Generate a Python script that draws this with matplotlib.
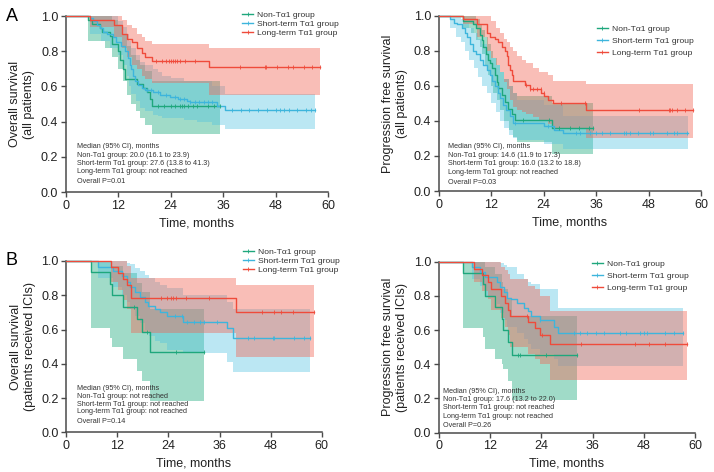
import numpy as np
import matplotlib
matplotlib.use("Agg")
import matplotlib.pyplot as plt
from matplotlib.lines import Line2D

plt.rcParams['font.family'] = ['Liberation Sans', 'DejaVu Sans']

GROUPS = ["Non-Tα1 group", "Short-term Tα1 group", "Long-term Tα1 group"]

# ---------------- Panel A, overall survival ----------------
AOS_non_t = [5.1, 5.9, 7.8, 8.3, 10.1, 10.5, 12.0, 12.4, 13.1, 13.6, 16.3, 17.7, 18.5, 19.2, 19.7]
AOS_non_s = [0.977, 0.955, 0.932, 0.909, 0.886, 0.841, 0.80, 0.75, 0.70, 0.64, 0.615, 0.59, 0.567, 0.53, 0.488]
AOS_non_end = 35.3
AOS_non_cens = [21, 22.5, 24, 25, 26, 26.5, 27, 28, 29, 30, 32.5, 34, 35.3]
AOS_non_ci_t = [5.1, 9, 10.5, 12, 13, 14, 15, 16, 17, 18, 19.7]
AOS_non_lo = [0.86, 0.82, 0.77, 0.70, 0.63, 0.55, 0.50, 0.46, 0.42, 0.38, 0.33]
AOS_non_hi = [1.0, 1.0, 0.98, 0.95, 0.90, 0.83, 0.78, 0.75, 0.72, 0.69, 0.63]

AOS_short_t = [5.5, 6.3, 7.0, 7.8, 8.5, 9.3, 10.8, 11.5, 12.7, 13.5, 14.3, 14.7, 15.0, 15.4, 15.8, 16.5, 17.3, 18.0, 20.0, 21.5, 23.8, 25.7, 27.6, 28.5, 34.5, 36.5]
AOS_short_s = [0.99, 0.97, 0.95, 0.93, 0.91, 0.90, 0.88, 0.85, 0.83, 0.80, 0.76, 0.72, 0.70, 0.66, 0.63, 0.61, 0.59, 0.58, 0.57, 0.55, 0.54, 0.53, 0.52, 0.51, 0.49, 0.465]
AOS_short_end = 57.0
AOS_short_cens = [18.5, 19.5, 21, 23, 25, 26, 27, 28.5, 29.5, 30.5, 31.5, 32.5, 33.5, 38, 40, 42, 44, 46, 48, 49, 50, 51, 53, 55, 56, 57]
AOS_short_ci_t = [5.5, 8, 10, 12, 13, 14, 14.5, 15, 16, 17, 18, 20, 21, 22, 24, 27, 30, 33.5, 36.5]
AOS_short_lo = [0.90, 0.86, 0.82, 0.78, 0.72, 0.66, 0.60, 0.56, 0.52, 0.48, 0.46, 0.44, 0.43, 0.42, 0.42, 0.41, 0.40, 0.38, 0.36]
AOS_short_hi = [1.0, 1.0, 1.0, 0.97, 0.94, 0.90, 0.86, 0.82, 0.78, 0.74, 0.72, 0.70, 0.68, 0.66, 0.65, 0.63, 0.63, 0.60, 0.56]

AOS_long_t = [5.6, 10.9, 12.8, 14.0, 15.1, 16.3, 17.4, 18.0, 19.7, 32.7]
AOS_long_s = [0.98, 0.95, 0.90, 0.87, 0.85, 0.82, 0.79, 0.77, 0.745, 0.71]
AOS_long_end = 58.1
AOS_long_cens = [20.5, 22.0, 22.8, 23.5, 24.05, 24.5, 25.0, 25.4, 26.2, 27.3, 29.5, 39.8, 45.5, 45.9, 48.3, 50.8, 51.9, 54.4, 56.3, 58.1]
AOS_long_ci_t = [5.6, 10.9, 12.8, 14.0, 15.1, 16.3, 17.4, 18.0, 19.7, 32.7]
AOS_long_lo = [0.94, 0.88, 0.82, 0.77, 0.72, 0.70, 0.66, 0.64, 0.62, 0.55]
AOS_long_hi = [1.0, 1.0, 0.98, 0.95, 0.93, 0.90, 0.88, 0.86, 0.84, 0.82]

# ---------------- Panel A, progression free survival ----------------
APFS_non_t = [5.6, 7.9, 8.6, 9.4, 9.8, 10.2, 10.9, 11.3, 11.7, 12.1, 12.9, 13.3, 13.6, 14.4, 15.2, 15.9, 16.7, 17.4, 25.9]
APFS_non_s = [0.97, 0.95, 0.93, 0.89, 0.86, 0.82, 0.78, 0.75, 0.73, 0.70, 0.66, 0.62, 0.59, 0.55, 0.51, 0.47, 0.44, 0.405, 0.36]
APFS_non_end = 35.3
APFS_non_cens = [19.2, 25.3, 27.6, 30.1, 32.2, 34.3, 35.3]
APFS_non_ci_t = [5.6, 7.5, 8.5, 9.4, 10, 10.5, 11.3, 12, 12.5, 13.3, 14, 15, 16, 17, 18, 25.9]
APFS_non_lo = [0.93, 0.90, 0.86, 0.82, 0.78, 0.72, 0.66, 0.60, 0.56, 0.52, 0.46, 0.40, 0.35, 0.31, 0.28, 0.21]
APFS_non_hi = [1.0, 1.0, 0.98, 0.95, 0.92, 0.88, 0.84, 0.80, 0.76, 0.72, 0.68, 0.64, 0.60, 0.56, 0.54, 0.50]

APFS_short_t = [2.6, 3.4, 4.2, 5.3, 6.0, 6.4, 7.2, 7.9, 8.6, 9.4, 10.2, 11.0, 11.7, 12.1, 12.9, 13.6, 14.0, 14.8, 15.5, 16.3, 17.0, 24.0, 26.3, 28.5]
APFS_short_s = [0.98, 0.96, 0.95, 0.93, 0.90, 0.88, 0.84, 0.80, 0.78, 0.75, 0.72, 0.69, 0.66, 0.63, 0.60, 0.56, 0.53, 0.49, 0.46, 0.43, 0.39, 0.37, 0.35, 0.33]
APFS_short_end = 57.1
APFS_short_cens = [17.5, 25.0, 31.5, 32.4, 34.6, 36.0, 37.3, 39.2, 42.3, 42.9, 43.8, 45.5, 48.4, 49.0, 52.2, 53.9, 54.5, 56.7]
APFS_short_ci_t = [2.6, 4, 5, 6, 7, 8, 9, 10, 11, 12, 13, 14, 15, 16, 17, 18, 24, 28.5]
APFS_short_lo = [0.93, 0.88, 0.85, 0.80, 0.75, 0.70, 0.65, 0.60, 0.56, 0.50, 0.45, 0.40, 0.36, 0.32, 0.30, 0.29, 0.27, 0.24]
APFS_short_hi = [1.0, 0.99, 0.98, 0.96, 0.93, 0.90, 0.87, 0.84, 0.80, 0.76, 0.72, 0.68, 0.64, 0.60, 0.56, 0.52, 0.49, 0.43]

APFS_long_t = [5.6, 8.7, 11.0, 11.7, 12.9, 13.6, 14.4, 15.2, 15.6, 15.9, 16.3, 16.7, 17.1, 19.8, 20.9, 23.5, 24.2, 25.0, 26.2, 33.7]
APFS_long_s = [0.98, 0.95, 0.90, 0.88, 0.87, 0.85, 0.82, 0.80, 0.77, 0.72, 0.69, 0.66, 0.627, 0.605, 0.58, 0.56, 0.54, 0.52, 0.50, 0.465]
APFS_long_end = 58.1
APFS_long_cens = [20.0, 20.9, 21.5, 22.5, 23.4, 24.0, 28.0, 33.5, 45.9, 52.6, 52.9, 53.3, 54.5, 56.4, 58.1]
APFS_long_ci_t = [5.6, 8.7, 11, 12, 13, 14, 15, 15.6, 16.3, 17, 18, 19, 20, 21.5, 23, 25, 26.2, 33.7]
APFS_long_lo = [0.95, 0.88, 0.80, 0.76, 0.72, 0.68, 0.62, 0.58, 0.52, 0.48, 0.46, 0.45, 0.44, 0.42, 0.40, 0.38, 0.36, 0.30]
APFS_long_hi = [1.0, 1.0, 1.0, 0.97, 0.93, 0.90, 0.87, 0.85, 0.82, 0.80, 0.77, 0.75, 0.73, 0.70, 0.68, 0.66, 0.63, 0.61]

# ---------------- Panel B, overall survival ----------------
BOS_non_t = [5.7, 10.3, 10.8, 13.4, 16.5, 17.7, 19.7]
BOS_non_s = [0.933, 0.867, 0.80, 0.733, 0.66, 0.587, 0.47]
BOS_non_end = 32.3
BOS_non_cens = [15.9, 19.0, 25.7, 32.3]
BOS_non_ci_t = [5.7, 10.3, 10.8, 13.4, 16.5, 17.7, 19.7]
BOS_non_lo = [0.61, 0.55, 0.50, 0.43, 0.36, 0.30, 0.18]
BOS_non_hi = [1.0, 1.0, 0.97, 0.93, 0.87, 0.82, 0.72]

BOS_short_t = [7.5, 11.0, 13.0, 14.2, 15.0, 16.1, 17.3, 18.5, 19.3, 20.8, 22.0, 23.6, 27.5, 37.7, 39.2]
BOS_short_s = [0.967, 0.94, 0.91, 0.88, 0.85, 0.82, 0.79, 0.76, 0.74, 0.72, 0.70, 0.68, 0.645, 0.61, 0.55]
BOS_short_end = 57.2
BOS_short_cens = [25.5, 27.1, 28.3, 29.9, 31.3, 32.3, 35.3, 42.6, 44.1, 48.6, 48.9, 53.5, 55.8, 57.2]
BOS_short_ci_t = [7.5, 11, 13, 14.2, 15, 16.1, 17.3, 18.5, 19.5, 20.8, 22, 23.6, 27.5, 37.7, 39.2]
BOS_short_lo = [0.90, 0.85, 0.80, 0.76, 0.72, 0.68, 0.64, 0.60, 0.56, 0.53, 0.52, 0.48, 0.46, 0.41, 0.35]
BOS_short_hi = [1.0, 1.0, 1.0, 0.99, 0.98, 0.96, 0.94, 0.92, 0.90, 0.88, 0.86, 0.84, 0.80, 0.76, 0.72]

BOS_long_t = [10.6, 12.2, 13.4, 14.2, 15.3, 39.8]
BOS_long_s = [0.964, 0.929, 0.893, 0.857, 0.786, 0.70]
BOS_long_end = 58.2
BOS_long_cens = [22.2, 23.7, 24.5, 25.1, 25.8, 28.2, 33.5, 46.0, 48.9, 50.4, 53.3, 58.2]
BOS_long_ci_t = [10.6, 12.2, 13.4, 14.2, 15.3, 39.8]
BOS_long_lo = [0.88, 0.83, 0.77, 0.72, 0.58, 0.44]
BOS_long_hi = [1.0, 1.0, 1.0, 0.97, 0.90, 0.86]

# ---------------- Panel B, progression free survival ----------------
BPFS_non_t = [5.8, 10.4, 10.9, 13.2, 14.7, 15.1, 16.3, 17.1]
BPFS_non_s = [0.933, 0.867, 0.80, 0.733, 0.667, 0.60, 0.533, 0.457]
BPFS_non_end = 32.3
BPFS_non_cens = [18.6, 19.0, 25.2, 32.3]
BPFS_non_ci_t = [5.8, 10.4, 10.9, 13.2, 14.7, 15.1, 16.3, 17.1]
BPFS_non_lo = [0.61, 0.56, 0.49, 0.43, 0.40, 0.37, 0.30, 0.19]
BPFS_non_hi = [1.0, 1.0, 0.97, 0.93, 0.88, 0.84, 0.78, 0.68]

BPFS_short_t = [7.8, 9.7, 10.9, 13.6, 14.4, 15.2, 16.0, 16.8, 18.3, 19.9, 20.8, 21.6, 23.8, 26.9, 28.0]
BPFS_short_s = [0.97, 0.94, 0.91, 0.88, 0.85, 0.82, 0.79, 0.78, 0.76, 0.73, 0.71, 0.68, 0.66, 0.62, 0.585]
BPFS_short_end = 57.1
BPFS_short_cens = [23.8, 31.6, 33.0, 34.7, 36.9, 38.6, 42.3, 43.9, 47.0, 48.1, 48.6, 53.0, 55.1, 57.1]
BPFS_short_ci_t = [7.8, 9.7, 10.9, 13.6, 14.4, 15.2, 16.0, 18.3, 19.9, 20.8, 21.6, 23.8, 26.9, 28.0]
BPFS_short_lo = [0.90, 0.86, 0.80, 0.75, 0.70, 0.66, 0.62, 0.58, 0.55, 0.52, 0.49, 0.46, 0.43, 0.39]
BPFS_short_hi = [1.0, 1.0, 1.0, 1.0, 0.99, 0.98, 0.97, 0.93, 0.90, 0.88, 0.87, 0.84, 0.84, 0.73]

BPFS_long_t = [8.2, 10.1, 11.5, 12.3, 14.5, 15.5, 16.2, 16.6, 21.0, 22.6, 23.8, 26.1]
BPFS_long_s = [0.96, 0.92, 0.88, 0.84, 0.80, 0.76, 0.72, 0.68, 0.645, 0.61, 0.57, 0.52]
BPFS_long_end = 58.0
BPFS_long_cens = [20.7, 24.2, 33.3, 46.0, 49.2, 53.0, 58.0]
BPFS_long_ci_t = [8.2, 10.1, 11.5, 12.3, 14.5, 15.5, 16.2, 16.6, 21.0, 22.6, 23.8, 26.1]
BPFS_long_lo = [0.88, 0.83, 0.78, 0.72, 0.67, 0.62, 0.57, 0.50, 0.46, 0.43, 0.40, 0.31]
BPFS_long_hi = [1.0, 1.0, 1.0, 1.0, 0.97, 0.95, 0.93, 0.90, 0.86, 0.84, 0.80, 0.71]

# ---------------- texts ----------------
AOS_notes = ["Median (95% CI), months", "Non-Tα1 group: 20.0 (16.1 to 23.9)",
             "Short-term Tα1 group: 27.6 (13.8 to 41.3)", "Long-term Tα1 group: not reached", "Overall P=0.01"]
APFS_notes = ["Median (95% CI), months", "Non-Tα1 group: 14.6 (11.9 to 17.3)",
              "Short-term Tα1 group: 16.0 (13.2 to 18.8)", "Long-term Tα1 group: not reached", "Overall P=0.03"]
BOS_notes = ["Median (95% CI), months", "Non-Tα1 group: not reached",
             "Short-term Tα1 group: not reached", "Long-term Tα1 group: not reached", "Overall P=0.14"]
BPFS_notes = ["Median (95% CI), months", "Non-Tα1 group: 17.6 (13.2 to 22.0)",
              "Short-term Tα1 group: not reached", "Long-term Tα1 group: not reached", "Overall P=0.26"]

LINE_COLORS = ["#1ea77c", "#3db5dc", "#ef4b3b"]
FILL_COLORS = ["#2eb086", "#4cc2e0", "#f26555"]
FILL_ALPHA = [0.45, 0.38, 0.42]

fig = plt.figure(figsize=(7.14, 4.72), dpi=100)


def draw_group(ax, t, s, end, cens, ci_t, lo, hi, k):
    x = np.concatenate([[0.0], t, [end]])
    y = np.concatenate([[1.0], s, [s[-1]]])
    cx = np.concatenate([ci_t, [end]])
    clo = np.concatenate([lo, [lo[-1]]])
    chi = np.concatenate([hi, [hi[-1]]])
    ax.fill_between(cx, clo, chi, step='post', color=FILL_COLORS[k],
                    alpha=FILL_ALPHA[k], lw=0, zorder=1)
    ax.step(x, y, where='post', color=LINE_COLORS[k], lw=1.0, zorder=3, clip_on=False)
    c = np.asarray(cens)
    idx = np.searchsorted(x, c, side='right') - 1
    idx = np.clip(idx, 0, len(y) - 1)
    ax.plot(c, y[idx], ls='none', marker='|', ms=3.0, mew=0.6,
            color=LINE_COLORS[k], zorder=4, clip_on=False)


def setup(rect, ylabel, groups, notes, note_xy, note_dy, leg_anchor, leg_spacing, letter=None):
    ax = fig.add_axes(rect)
    for k, g in enumerate(groups):
        draw_group(ax, *g, k)
    ax.set_xlim(0, 60)
    ax.set_ylim(0, 1.0)
    ax.set_xticks([0, 12, 24, 36, 48, 60])
    ax.set_yticks([0.0, 0.2, 0.4, 0.6, 0.8, 1.0])
    ax.set_yticklabels(["0.0", "0.2", "0.4", "0.6", "0.8", "1.0"])
    for sp in ['top', 'right']:
        ax.spines[sp].set_visible(False)
    for sp in ['left', 'bottom']:
        ax.spines[sp].set_color('#4a4a4a')
        ax.spines[sp].set_linewidth(1.1)
    ax.tick_params(axis='both', direction='out', length=3.5, width=1.0,
                   color='#4a4a4a', labelsize=9, labelcolor='#222222', pad=2)
    ax.set_xlabel("Time, months", fontsize=9, color='#222222', labelpad=4)
    ax.set_ylabel(ylabel, fontsize=9, color='#222222', labelpad=4, linespacing=1.25)
    x0, y0 = note_xy
    for i, line in enumerate(notes):
        yy = y0 - i * note_dy - (0.008 if i == 4 else 0)
        ax.text(x0, yy, line, fontsize=5.2, color='#333333', va='center', ha='left')
    handles = [Line2D([0], [0], color=LINE_COLORS[k], lw=1.0, marker='|', ms=3.0, mew=0.6)
               for k in range(3)]
    ax.legend(handles, GROUPS, loc='upper left', bbox_to_anchor=leg_anchor, frameon=False,
              fontsize=6.1, handlelength=1.3, handletextpad=0.5, labelspacing=leg_spacing,
              borderpad=0, borderaxespad=0, labelcolor='#333333')
    if letter:
        fig.text(0.008, rect[1] + rect[3] + 0.0, letter, fontsize=13, ha='left', va='center')
    return ax


setup([0.0924, 0.593, 0.367, 0.373], "Overall survival\n(all patients)",
      [(AOS_non_t, AOS_non_s, AOS_non_end, AOS_non_cens, AOS_non_ci_t, AOS_non_lo, AOS_non_hi),
       (AOS_short_t, AOS_short_s, AOS_short_end, AOS_short_cens, AOS_short_ci_t, AOS_short_lo, AOS_short_hi),
       (AOS_long_t, AOS_long_s, AOS_long_end, AOS_long_cens, AOS_long_ci_t, AOS_long_lo, AOS_long_hi)],
      AOS_notes, (2.45, 0.257), 0.047, (0.672, 1.031), 0.15, letter="A")

setup([0.6144, 0.5953, 0.3674, 0.3714], "Progression free survival\n(all patients)",
      [(APFS_non_t, APFS_non_s, APFS_non_end, APFS_non_cens, APFS_non_ci_t, APFS_non_lo, APFS_non_hi),
       (APFS_short_t, APFS_short_s, APFS_short_end, APFS_short_cens, APFS_short_ci_t, APFS_short_lo, APFS_short_hi),
       (APFS_long_t, APFS_long_s, APFS_long_end, APFS_long_cens, APFS_long_ci_t, APFS_long_lo, APFS_long_hi)],
      APFS_notes, (2.06, 0.253), 0.049, (0.603, 0.949), 0.5)

setup([0.0929, 0.0841, 0.3577, 0.363], "Overall survival\n(patients received ICIs)",
      [(BOS_non_t, BOS_non_s, BOS_non_end, BOS_non_cens, BOS_non_ci_t, BOS_non_lo, BOS_non_hi),
       (BOS_short_t, BOS_short_s, BOS_short_end, BOS_short_cens, BOS_short_ci_t, BOS_short_lo, BOS_short_hi),
       (BOS_long_t, BOS_long_s, BOS_long_end, BOS_long_cens, BOS_long_ci_t, BOS_long_lo, BOS_long_hi)],
      BOS_notes, (2.44, 0.257), 0.046, (0.69, 1.078), 0.15, letter="B")

setup([0.6144, 0.0833, 0.3594, 0.3623], "Progression free survival\n(patients received ICIs)",
      [(BPFS_non_t, BPFS_non_s, BPFS_non_end, BPFS_non_cens, BPFS_non_ci_t, BPFS_non_lo, BPFS_non_hi),
       (BPFS_short_t, BPFS_short_s, BPFS_short_end, BPFS_short_cens, BPFS_short_ci_t, BPFS_short_lo, BPFS_short_hi),
       (BPFS_long_t, BPFS_long_s, BPFS_long_end, BPFS_long_cens, BPFS_long_ci_t, BPFS_long_lo, BPFS_long_hi)],
      BPFS_notes, (1.0, 0.241), 0.048, (0.597, 1.008), 0.45)

fig.savefig("out.png", dpi=100)
